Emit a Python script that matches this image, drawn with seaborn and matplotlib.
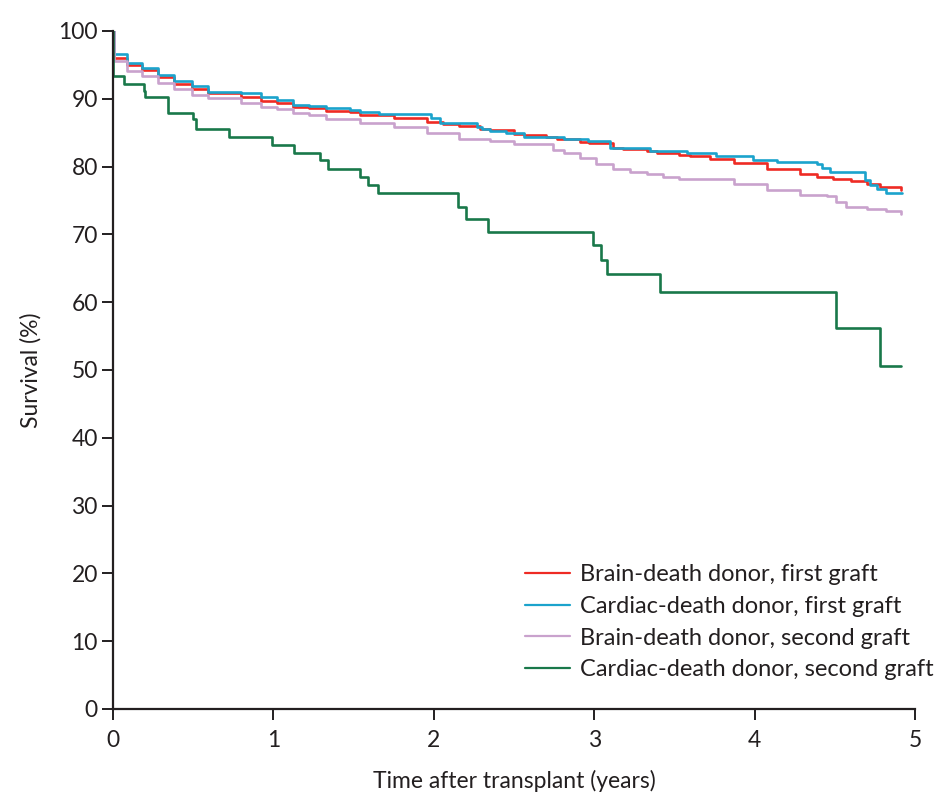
import numpy as np
import pandas as pd
import matplotlib
matplotlib.use("Agg")
import matplotlib.pyplot as plt
import seaborn as sns

# Kaplan-Meier style survival curves
red_t = [0, 0.005, 0.09, 0.18, 0.28, 0.38, 0.49, 0.59, 0.80, 0.92, 1.02, 1.12, 1.22, 1.33,
         1.48, 1.54, 1.75, 1.96, 2.06, 2.16, 2.29, 2.35, 2.50, 2.56, 2.70, 2.77, 2.91, 2.97,
         3.12, 3.18, 3.33, 3.39, 3.53, 3.60, 3.72, 3.87, 4.08, 4.28, 4.39, 4.49, 4.60, 4.70,
         4.78, 4.91]
red_s = [100, 96.0, 95.0, 94.2, 93.2, 92.2, 91.4, 90.8, 90.3, 89.6, 89.4, 88.8, 88.6, 88.2,
         88.0, 87.6, 87.1, 86.6, 86.3, 86.0, 85.5, 85.4, 84.8, 84.6, 84.3, 84.0, 83.6, 83.4,
         82.8, 82.6, 82.3, 82.0, 81.7, 81.5, 81.1, 80.5, 79.6, 78.9, 78.4, 78.2, 77.8, 77.4,
         77.0, 76.5]

cyan_t = [0, 0.005, 0.09, 0.18, 0.28, 0.38, 0.49, 0.59, 0.80, 0.92, 1.02, 1.12, 1.22, 1.33,
          1.48, 1.54, 1.66, 1.98, 2.04, 2.27, 2.30, 2.35, 2.45, 2.56, 2.81, 2.96, 3.10, 3.35,
          3.58, 3.76, 3.99, 4.14, 4.39, 4.42, 4.47, 4.69, 4.72, 4.76, 4.82, 4.92]
cyan_s = [100, 96.6, 95.3, 94.6, 93.5, 92.6, 91.8, 91.0, 90.8, 90.3, 89.8, 89.1, 88.9, 88.6,
          88.4, 88.1, 87.7, 87.2, 86.4, 85.9, 85.6, 85.3, 84.9, 84.3, 84.1, 83.7, 82.8, 82.3,
          82.0, 81.5, 81.0, 80.7, 80.3, 79.8, 79.2, 78.0, 77.3, 76.7, 76.1, 76.1]

purple_t = [0, 0.005, 0.09, 0.18, 0.28, 0.38, 0.49, 0.59, 0.80, 0.92, 1.02, 1.12, 1.22, 1.33,
            1.54, 1.75, 1.96, 2.16, 2.35, 2.50, 2.74, 2.81, 2.91, 3.01, 3.12, 3.22, 3.33, 3.43,
            3.53, 3.87, 4.08, 4.28, 4.45, 4.51, 4.57, 4.70, 4.82, 4.91]
purple_s = [100, 95.6, 94.1, 93.4, 92.3, 91.4, 90.6, 90.1, 89.3, 88.8, 88.5, 87.9, 87.6, 87.0,
            86.4, 85.8, 84.9, 84.0, 83.7, 83.3, 82.4, 82.0, 81.2, 80.3, 79.7, 79.2, 78.9, 78.5,
            78.2, 77.4, 76.5, 75.8, 75.6, 74.8, 74.1, 73.8, 73.4, 73.0]

green_t = [0, 0.002, 0.07, 0.19, 0.20, 0.34, 0.50, 0.52, 0.72, 0.99, 1.13, 1.29, 1.34, 1.54,
           1.59, 1.65, 2.15, 2.20, 2.34, 2.99, 3.04, 3.08, 3.41, 4.51, 4.78, 4.91]
green_s = [100, 93.3, 92.2, 91.2, 90.2, 87.9, 87.0, 85.5, 84.4, 83.2, 82.0, 81.0, 79.6, 78.5,
           77.3, 76.1, 74.1, 72.2, 70.4, 68.4, 66.2, 64.1, 61.5, 56.2, 50.6, 50.6]

groups = ["Brain-death donor, first graft", "Cardiac-death donor, first graft",
          "Brain-death donor, second graft", "Cardiac-death donor, second graft"]
colors = ["#ee2b24", "#1ba3cc", "#c9a2cd", "#19784a"]

frames = []
for name, t, s in zip(groups, [red_t, cyan_t, purple_t, green_t],
                      [red_s, cyan_s, purple_s, green_s]):
    frames.append(pd.DataFrame({"time": t, "survival": s, "group": name}))
df = pd.concat(frames, ignore_index=True)

sns.set_style("ticks")
plt.rcParams["font.family"] = ["Lato", "DejaVu Sans"]
ink = "#231f20"

fig = plt.figure(figsize=(9.38, 7.92), dpi=100)
ax = fig.add_axes([0.1205, 0.1048, 0.855, 0.8562])

sns.lineplot(data=df, x="time", y="survival", hue="group", hue_order=groups,
             palette=colors, estimator=None, sort=False, drawstyle="steps-post",
             linewidth=1.9, ax=ax)

ax.set_xlim(0, 5)
ax.set_ylim(0, 100)
ax.set_xticks(range(0, 6))
ax.set_yticks(range(0, 101, 10))
ax.tick_params(axis="both", labelsize=16.5, length=8, width=1.4, color=ink,
               labelcolor=ink, pad=3)
ax.tick_params(axis="x", pad=7)
for side in ["top", "right"]:
    ax.spines[side].set_visible(False)
for side in ["left", "bottom"]:
    ax.spines[side].set_linewidth(1.6)
    ax.spines[side].set_color(ink)

ax.set_xlabel("Time after transplant (years)", fontsize=16.5, color=ink, labelpad=14)
ax.set_ylabel("Survival (%)", fontsize=16.5, color=ink, labelpad=12)

leg = ax.legend(loc="lower right", frameon=False, fontsize=17, handlelength=1.9,
                handletextpad=0.42, labelspacing=0.45, borderaxespad=0, borderpad=0)
leg.set_bbox_to_anchor((0.995, 0.141), transform=fig.transFigure)
for txt in leg.get_texts():
    txt.set_color(ink)
for line in leg.get_lines():
    line.set_linewidth(1.6)

fig.savefig("out.png", dpi=100)
